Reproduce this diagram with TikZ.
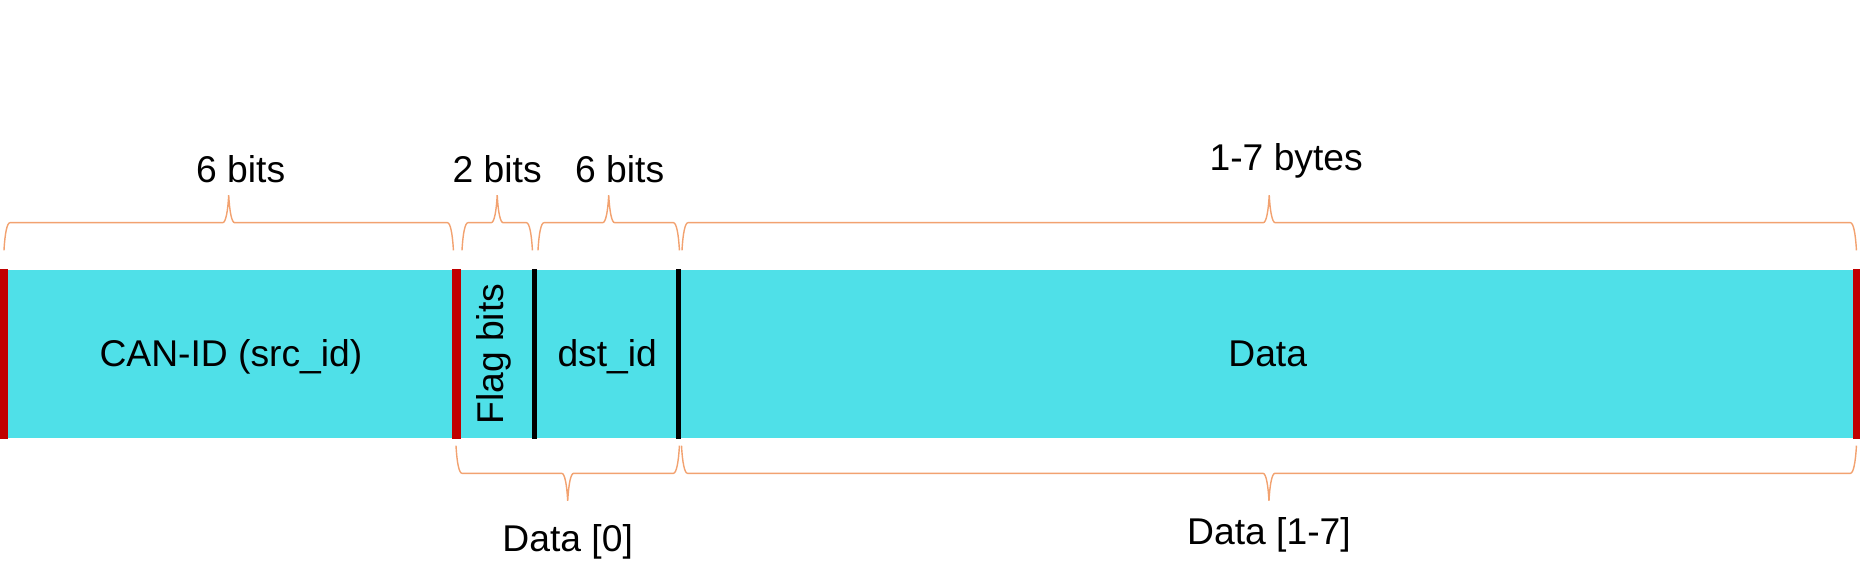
\documentclass[tikz,border=0pt]{standalone}
\usepackage{fontspec}
\setmainfont{Liberation Sans}
\usetikzlibrary{decorations.pathreplacing}
\definecolor{fieldcyan}{RGB}{79,224,232}
\definecolor{sepred}{RGB}{192,0,0}
\definecolor{braceorange}{RGB}{242,162,112}

\begin{document}
\begin{tikzpicture}[
      font=\fontsize{10.6}{12.7}\selectfont,
      field/.style={fill=fieldcyan, anchor=west, minimum height=1.685cm,
                    inner sep=0pt, text height=0.72em, text depth=0pt},
      redsep/.style={draw=sepred, line width=0.085cm},
      blacksep/.style={draw=black, line width=0.05cm},
      bracetop/.style={draw=braceorange, line width=0.4pt, decorate,
                       decoration={brace, amplitude=0.06cm, transform={yscale=9.2}}},
      bracebot/.style={bracetop, decoration={mirror}},
      lbl/.style={anchor=base, inner sep=0pt}
    ]
    \useasboundingbox (0,0) rectangle (18.6,-5.81);

    % Frame fields
    \node[field, minimum width=4.525cm] (src) at (0.04,-3.5425) {CAN-ID (src\_id)\hspace{0.14cm}};
    \node[field, minimum width=0.78cm] (flag) at (4.565,-3.5425) {};
    \node[field, minimum width=1.44cm] (dst) at (5.345,-3.5425) {dst\_id\hspace{0.16cm}};
    \node[field, minimum width=11.77cm] (data) at (6.785,-3.5425) {Data};
    \node[rotate=90, inner sep=0pt] (flaglbl) at ([xshift=-0.02cm]flag.center) {Flag bits};

    % Separators
    \draw[redsep] (src.north west) -- (src.south west);
    \draw[redsep] (flag.north west) -- (flag.south west);
    \draw[blacksep] (dst.north west) -- (dst.south west);
    \draw[blacksep] (data.north west) -- (data.south west);
    \draw[redsep] (data.north east) -- (data.south east);

    % Sizes above
    \draw[bracetop] ([yshift=0.19cm]src.north west) -- ([shift={(-0.045,0.19)}]src.north east)
      node[lbl, midway, xshift=0.12cm, yshift=0.68cm] (srcsize) {6 bits};
    \draw[bracetop] ([shift={(0.055,0.19)}]flag.north west) -- ([shift={(-0.035,0.19)}]flag.north east)
      node[lbl, midway, yshift=0.68cm] (flagsize) {2 bits};
    \draw[bracetop] ([shift={(0.035,0.19)}]dst.north west) -- ([shift={(-0.005,0.19)}]dst.north east)
      node[lbl, midway, xshift=0.11cm, yshift=0.68cm] (dstsize) {6 bits};
    \draw[bracetop] ([shift={(0.035,0.19)}]data.north west) -- ([shift={(-0.005,0.19)}]data.north east)
      node[lbl, midway, xshift=0.17cm, yshift=0.80cm] (datasize) {1-7 bytes};

    % Bytes below
    \draw[bracebot] ([shift={(-0.005,-0.065)}]flag.south west) -- ([shift={(-0.005,-0.065)}]dst.south east)
      node[lbl, midway, yshift=-1.055cm] (byte0) {Data [0]};
    \draw[bracebot] ([shift={(0.03,-0.065)}]data.south west) -- ([shift={(-0.005,-0.065)}]data.south east)
      node[lbl, midway, yshift=-0.985cm] (byterest) {Data [1-7]};
  \end{tikzpicture}
\end{document}
